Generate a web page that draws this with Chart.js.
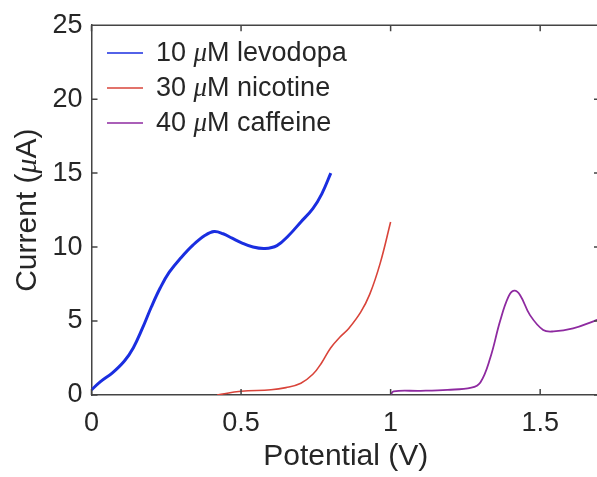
<!DOCTYPE html>
<html>
<head>
<meta charset="utf-8">
<script src="https://cdn.jsdelivr.net/npm/chart.js@4.4.0/dist/chart.umd.min.js"></script>
<style>
  html, body { margin: 0; padding: 0; background: #fff; overflow: hidden; }
</style>
</head>
<body>
<canvas id="cv" width="600" height="477"></canvas>
<script>
// Dane
const seriesLabels = ['10 μM levodopa', '30 μM nicotine', '40 μM caffeine'];
const seriesColors = ['#1a2ee0', '#d9443a', '#8e2aa0'];

const levodopaX = [0, 0.03, 0.07, 0.11, 0.14, 0.17, 0.2, 0.23, 0.26, 0.3, 0.34, 0.38, 0.41, 0.44, 0.47, 0.5, 0.54, 0.58, 0.62, 0.66, 0.7, 0.74, 0.77, 0.8];
const levodopaY = [0.35, 0.9, 1.5, 2.3, 3.2, 4.5, 5.95, 7.25, 8.3, 9.3, 10.15, 10.8, 11.05, 10.9, 10.6, 10.3, 10.0, 9.9, 10.1, 10.8, 11.7, 12.6, 13.6, 15.0];

const nicotineX = [0.42, 0.5, 0.6, 0.65, 0.7, 0.74, 0.77, 0.8, 0.83, 0.86, 0.9, 0.93, 0.965, 1.0];
const nicotineY = [0, 0.25, 0.35, 0.5, 0.8, 1.4, 2.2, 3.2, 3.9, 4.5, 5.6, 6.8, 8.9, 11.7];

const caffeineX = [1.0, 1.01, 1.1, 1.19, 1.27, 1.3, 1.333, 1.366, 1.394, 1.413, 1.433, 1.466, 1.51, 1.545, 1.61, 1.68, 1.7];
const caffeineY = [0, 0.25, 0.28, 0.35, 0.5, 0.85, 2.5, 5.0, 6.65, 7.05, 6.75, 5.4, 4.4, 4.3, 4.5, 5.0, 5.15];

const xTicks = [0, 0.5, 1, 1.5];
const yTicks = [0, 5, 10, 15, 20, 25];

const FONT = '"Liberation Sans", Arial, Helvetica, sans-serif';
const TEXT_COLOR = '#262626';
const AXIS_COLOR = '#444';

function toPoints(xs, ys) {
    return xs.map((x, i) => ({ x: x, y: ys[i] }));
}

// Tekst z kursywą dla μ
function measureMixed(ctx, text, size) {
    const parts = text.split(/(μ)/).filter(p => p.length);
    const fonts = parts.map(p => p === 'μ' ? `italic ${size}px "Liberation Serif", serif` : `${size}px ${FONT}`);
    let total = 0;
    const widths = parts.map((p, i) => { ctx.font = fonts[i]; const w = ctx.measureText(p).width; total += w; return w; });
    return { parts, fonts, widths, total };
}

function renderMixed(ctx, text, x, y, size, align) {
    const m = measureMixed(ctx, text, size);
    let cx = align === 'center' ? x - m.total / 2 : x;
    ctx.textAlign = 'left';
    ctx.textBaseline = 'middle';
    m.parts.forEach((p, i) => {
        ctx.font = m.fonts[i];
        ctx.fillText(p, cx, y);
        cx += m.widths[i];
    });
}

const decorPlugin = {
    id: 'decor',
    afterDraw(chart) {
        const ctx = chart.ctx;
        const a = chart.chartArea;
        const xs = chart.scales.x;
        const ys = chart.scales.y;
        ctx.save();

        // Ramka i znaczniki do środka
        ctx.strokeStyle = AXIS_COLOR;
        ctx.lineWidth = 1.5;
        ctx.beginPath();
        ctx.moveTo(a.left, a.top);
        ctx.lineTo(a.right, a.top);
        ctx.lineTo(a.right, a.bottom);
        xTicks.forEach(v => {
            const px = xs.getPixelForValue(v);
            ctx.moveTo(px, a.bottom);
            ctx.lineTo(px, a.bottom - 6);
            ctx.moveTo(px, a.top);
            ctx.lineTo(px, a.top + 6);
        });
        yTicks.forEach(v => {
            const py = ys.getPixelForValue(v);
            ctx.moveTo(a.left, py);
            ctx.lineTo(a.left + 6, py);
            ctx.moveTo(a.right, py);
            ctx.lineTo(a.right - 6, py);
        });
        ctx.stroke();

        // Tytuły osi
        ctx.fillStyle = TEXT_COLOR;
        renderMixed(ctx, 'Potential (V)', (a.left + a.right) / 2, 457, 30, 'center');
        ctx.save();
        ctx.translate(28, (a.top + a.bottom) / 2);
        ctx.rotate(-Math.PI / 2);
        renderMixed(ctx, 'Current (μA)', 0, 0, 30, 'center');
        ctx.restore();

        // Legenda
        chart.data.datasets.forEach((ds, i) => {
            const ry = 53 + i * 35;
            ctx.strokeStyle = ds.borderColor;
            ctx.lineWidth = 1.6;
            ctx.beginPath();
            ctx.moveTo(107, ry);
            ctx.lineTo(143, ry);
            ctx.stroke();
            ctx.fillStyle = TEXT_COLOR;
            renderMixed(ctx, ds.label, 156, ry + 1, 27, 'left');
        });

        ctx.restore();
    }
};

new Chart(document.getElementById('cv'), {
    type: 'line',
    data: {
        datasets: [
            { label: seriesLabels[0], data: toPoints(levodopaX, levodopaY), borderColor: seriesColors[0], borderWidth: 3, tension: 0.4 },
            { label: seriesLabels[1], data: toPoints(nicotineX, nicotineY), borderColor: seriesColors[1], borderWidth: 1.6, tension: 0.4 },
            { label: seriesLabels[2], data: toPoints(caffeineX, caffeineY), borderColor: seriesColors[2], borderWidth: 1.8, tension: 0.4 }
        ]
    },
    options: {
        responsive: false,
        devicePixelRatio: 1,
        animation: false,
        elements: {
            point: { radius: 0 },
            line: { fill: false }
        },
        layout: { padding: { top: 22, right: 0, left: 0, bottom: 0 } },
        plugins: {
            legend: { display: false },
            tooltip: { enabled: false }
        },
        scales: {
            x: {
                type: 'linear',
                min: 0,
                max: 1.7,
                afterBuildTicks: scale => { scale.ticks = xTicks.map(v => ({ value: v })); },
                afterFit: scale => { scale.height = 82; },
                grid: { drawOnChartArea: false, drawTicks: false },
                border: { display: true, color: AXIS_COLOR, width: 1.5 },
                ticks: {
                    padding: 12,
                    color: TEXT_COLOR,
                    font: { family: FONT, size: 27 },
                    maxRotation: 0,
                    callback: v => String(v)
                }
            },
            y: {
                type: 'linear',
                min: 0,
                max: 25,
                afterBuildTicks: scale => { scale.ticks = yTicks.map(v => ({ value: v })); },
                afterFit: scale => { scale.width = 91.5; },
                grid: { drawOnChartArea: false, drawTicks: false },
                border: { display: true, color: AXIS_COLOR, width: 1.5 },
                ticks: {
                    padding: 9,
                    color: TEXT_COLOR,
                    font: { family: FONT, size: 27 }
                }
            }
        }
    },
    plugins: [decorPlugin]
});
</script>
</body>
</html>
